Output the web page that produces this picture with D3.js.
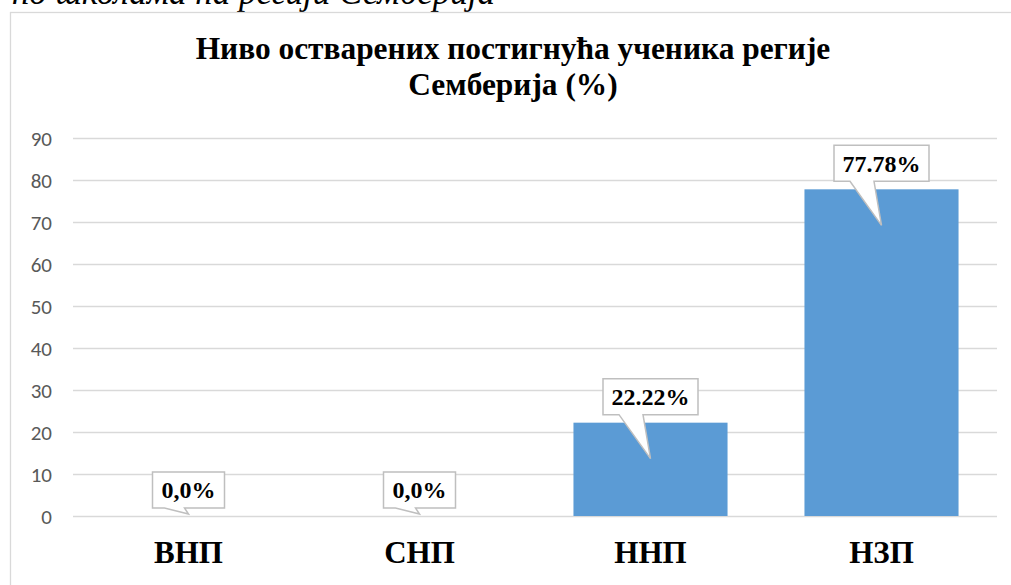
<!DOCTYPE html>
<html><head><meta charset="utf-8">
<script src="https://cdn.jsdelivr.net/npm/d3@7"></script>
<style>body{margin:0;background:#fff}svg{display:block}</style>
</head><body>
<svg id="c" width="1011" height="585"></svg>
<script>
const categories = ["ВНП", "СНП", "ННП", "НЗП"];
const values = [0, 0, 22.22, 77.78];
const labels = ["0,0%", "0,0%", "22.22%", "77.78%"];
const yTicks = [0, 10, 20, 30, 40, 50, 60, 70, 80, 90];
const titleLines = ["Ниво остварених постигнућа ученика регије", "Семберија (%)"];
const captionText = "по школама на регији Семберија";

const svg = d3.select("#c");
const serif = "'Liberation Serif','Times New Roman',serif";
const sans = "Carlito,'Liberation Sans',Arial,sans-serif";

// cropped caption above the chart frame (cut off at the top, as in the reference)
svg.append("text").attr("x", 495).attr("y", 4).attr("text-anchor", "end")
  .attr("font-family", serif).attr("font-style", "italic").attr("font-size", 35)
  .attr("fill", "#000").text(captionText);

// chart frame
svg.append("rect").attr("x", 10.5).attr("y", 12.5).attr("width", 1020).attr("height", 600)
  .attr("fill", "#fff").attr("stroke", "#d9d9d9").attr("stroke-width", 1.3);

const x = d3.scaleBand().domain(categories).range([73, 997]).paddingInner(0.333).paddingOuter(0.1665);
const y = d3.scaleLinear().domain([0, 90]).range([516, 138]);

// gridlines
svg.append("g").selectAll("line").data(yTicks).join("line")
  .attr("x1", 73).attr("x2", 997)
  .attr("y1", d => y(d) + 0.5).attr("y2", d => y(d) + 0.5)
  .attr("stroke", "#d9d9d9").attr("stroke-width", 1.3);

// y axis labels
const yAxis = d3.axisLeft(y).tickValues(yTicks).tickSize(0).tickPadding(0);
const ga = svg.append("g").attr("transform", "translate(52,0)").call(yAxis);
ga.select(".domain").remove();
ga.selectAll("text").attr("font-family", sans).attr("font-size", 21).attr("fill", "#595959").attr("dy", "0.35em");

// bars
svg.append("g").selectAll("rect").data(values).join("rect")
  .attr("x", (d, i) => x(categories[i]))
  .attr("width", x.bandwidth())
  .attr("y", d => y(d))
  .attr("height", d => y(0) - y(d))
  .attr("fill", "#5b9bd5");

// category labels
svg.append("g").selectAll("text").data(categories).join("text")
  .attr("x", d => x(d) + x.bandwidth() / 2).attr("y", 563)
  .attr("text-anchor", "middle").attr("font-family", serif).attr("font-weight", "bold")
  .attr("font-size", 31).attr("fill", "#000").text(d => d);

// callout labels
const cg = svg.append("g");
values.forEach((v, i) => {
  const cx = x(categories[i]) + x.bandwidth() / 2;
  const top = y(v);
  const big = labels[i].length > 5;
  const bw = big ? 95 : 72;
  const bh = 36;
  const bx = cx - bw / 2;
  const bBottom = top - 8;
  const bTop = bBottom - bh;
  const tipY = top + Math.min(38, y(0) - top) - 2;
  const p1 = bx + (big ? 16 : 12), p2 = bx + (big ? 40 : 32);
  const path = `M${bx},${bTop} H${bx + bw} V${bBottom} H${p2} L${cx},${tipY} L${p1},${bBottom} H${bx} Z`;
  cg.append("path").attr("d", path).attr("fill", "#fff").attr("stroke", "#bfbfbf").attr("stroke-width", 1.5);
  cg.append("text").attr("x", bx + bw / 2).attr("y", bTop + bh / 2).attr("dy", "0.35em")
    .attr("text-anchor", "middle").attr("font-family", serif).attr("font-weight", "bold")
    .attr("font-size", 24).attr("fill", "#000").text(labels[i]);
});

// title
svg.append("text").attr("text-anchor", "middle")
  .attr("font-family", serif).attr("font-weight", "bold").attr("font-size", 31.4).attr("fill", "#000")
  .selectAll("tspan").data(titleLines).join("tspan")
  .attr("x", 513).attr("y", (d, i) => 59 + i * 36).text(d => d);
</script>
</body></html>
